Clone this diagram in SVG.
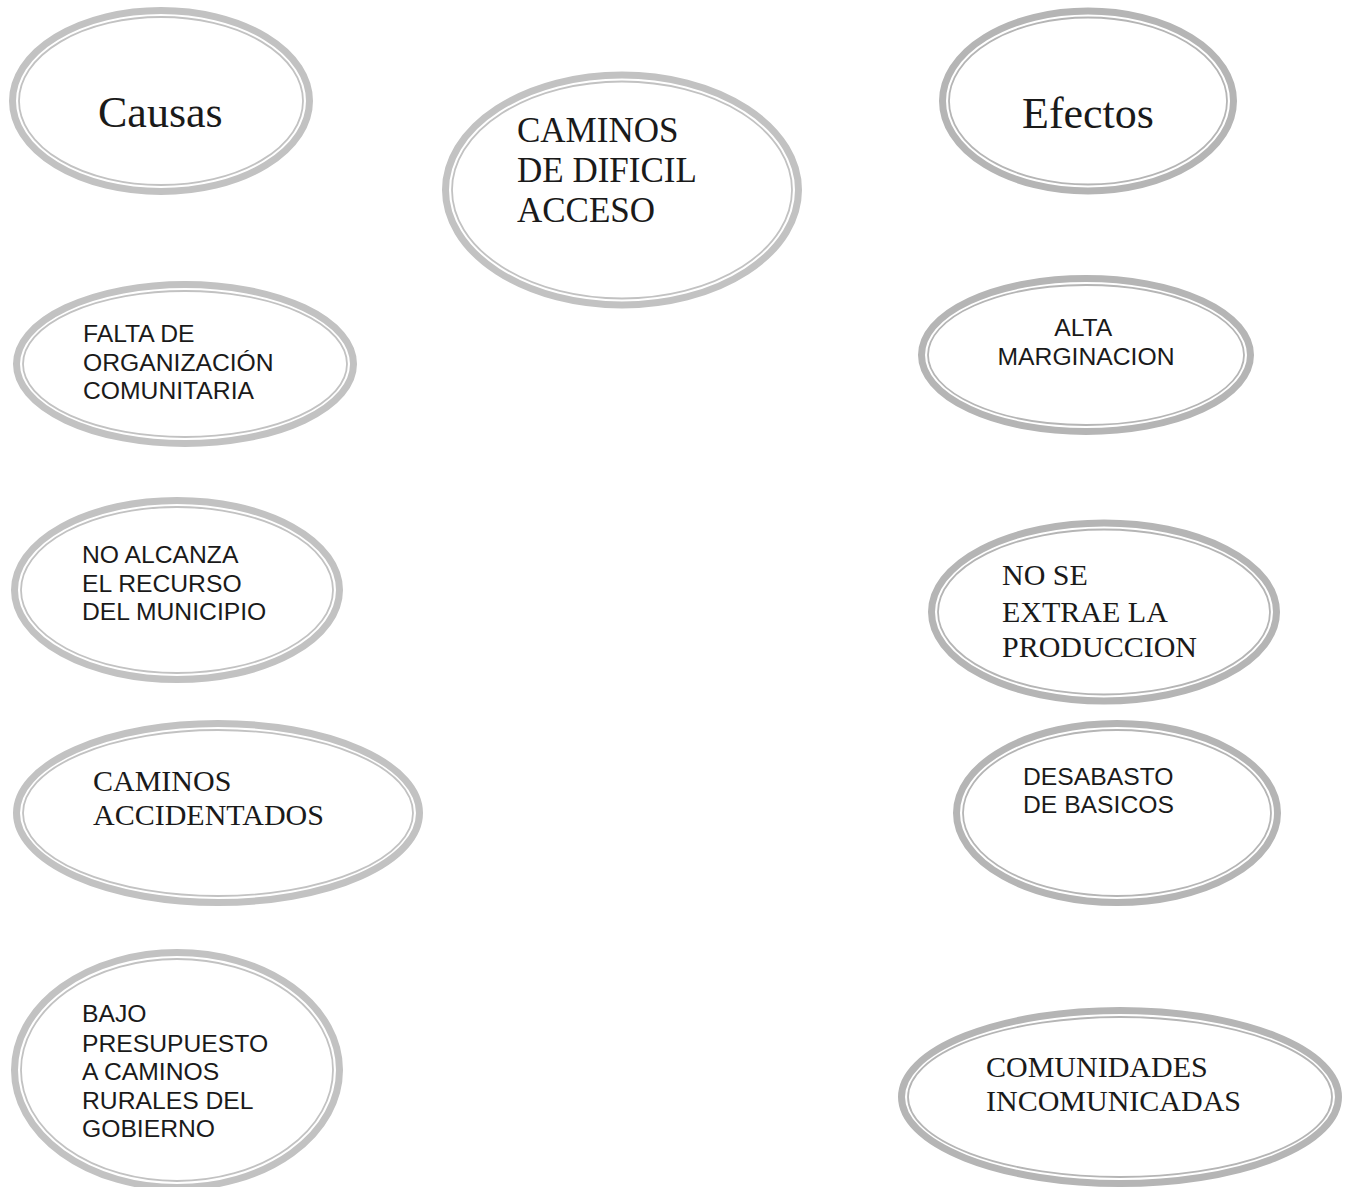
<svg xmlns="http://www.w3.org/2000/svg" width="1348" height="1187" viewBox="0 0 1348 1187">
  <style>
    .ring { fill: #ffffff; stroke: #c2c2c2; stroke-width: 7; }
    .ring2 { fill: #ffffff; stroke: #b5b5b5; stroke-width: 7; }
    .inner { fill: none; stroke: #c2c2c2; stroke-width: 1.8; }
    .inner2 { fill: none; stroke: #b5b5b5; stroke-width: 1.8; }
    .serif { font-family: "Liberation Serif", "Times New Roman", serif; fill: #1a1a1a; }
    .sans { font-family: "Liberation Sans", Arial, sans-serif; fill: #1a1a1a; font-size: 24.7px; }
  </style>
  <rect width="1348" height="1187" fill="#ffffff"/>
  <g id="connectors"/>

  <g id="causas">
    <ellipse class="ring" cx="161" cy="101" rx="148.5" ry="90.5"/>
    <ellipse class="inner" cx="161" cy="101" rx="142" ry="84"/>
    <text class="serif" x="98" y="127" font-size="44">Causas</text>
  </g>

  <g id="problema">
    <ellipse class="ring" cx="622" cy="190" rx="176.5" ry="115"/>
    <ellipse class="inner" cx="622" cy="190" rx="170" ry="108.5"/>
    <text class="serif" font-size="35">
      <tspan x="517" y="142">CAMINOS</tspan>
      <tspan x="517" y="182">DE DIFICIL</tspan>
      <tspan x="517" y="222">ACCESO</tspan>
    </text>
  </g>

  <g id="efectos">
    <ellipse class="ring2" cx="1088" cy="101" rx="145.5" ry="90"/>
    <ellipse class="inner2" cx="1088" cy="101" rx="139" ry="83.5"/>
    <text class="serif" x="1022" y="128" font-size="44">Efectos</text>
  </g>

  <g id="falta-organizacion">
    <ellipse class="ring" cx="185" cy="364" rx="168.5" ry="79.5"/>
    <ellipse class="inner" cx="185" cy="364" rx="162" ry="73"/>
    <text class="sans">
      <tspan x="83" y="342">FALTA DE</tspan>
      <tspan x="83" y="371">ORGANIZACIÓN</tspan>
      <tspan x="83" y="399">COMUNITARIA</tspan>
    </text>
  </g>

  <g id="alta-marginacion">
    <ellipse class="ring2" cx="1086" cy="355" rx="164.5" ry="76.5"/>
    <ellipse class="inner2" cx="1086" cy="355" rx="158" ry="70"/>
    <text class="sans" text-anchor="middle">
      <tspan x="1086" y="336">ALTA</tspan>
      <tspan x="1086" y="365">MARGINACION</tspan>
    </text>
  </g>

  <g id="no-alcanza">
    <ellipse class="ring" cx="177" cy="590" rx="162.5" ry="89.5"/>
    <ellipse class="inner" cx="177" cy="590" rx="156" ry="83"/>
    <text class="sans">
      <tspan x="82" y="563">NO ALCANZA</tspan>
      <tspan x="82" y="592">EL RECURSO</tspan>
      <tspan x="82" y="620">DEL MUNICIPIO</tspan>
    </text>
  </g>

  <g id="no-se-extrae">
    <ellipse class="ring2" cx="1104" cy="612" rx="172.5" ry="89"/>
    <ellipse class="inner2" cx="1104" cy="612" rx="166" ry="82.5"/>
    <text class="serif" font-size="30">
      <tspan x="1002" y="585">NO SE</tspan>
      <tspan x="1002" y="622">EXTRAE LA</tspan>
      <tspan x="1002" y="657">PRODUCCION</tspan>
    </text>
  </g>

  <g id="caminos-accidentados">
    <ellipse class="ring" cx="218" cy="813" rx="201.5" ry="89.5"/>
    <ellipse class="inner" cx="218" cy="813" rx="195" ry="83"/>
    <text class="serif" font-size="30">
      <tspan x="93" y="791">CAMINOS</tspan>
      <tspan x="93" y="825">ACCIDENTADOS</tspan>
    </text>
  </g>

  <g id="desabasto">
    <ellipse class="ring2" cx="1117" cy="813" rx="160.5" ry="89.5"/>
    <ellipse class="inner2" cx="1117" cy="813" rx="154" ry="83"/>
    <text class="sans">
      <tspan x="1023" y="785">DESABASTO</tspan>
      <tspan x="1023" y="813">DE BASICOS</tspan>
    </text>
  </g>

  <g id="bajo-presupuesto">
    <ellipse class="ring" cx="177" cy="1070" rx="162.5" ry="117.5"/>
    <ellipse class="inner" cx="177" cy="1070" rx="156" ry="111"/>
    <text class="sans">
      <tspan x="82" y="1022">BAJO</tspan>
      <tspan x="82" y="1052">PRESUPUESTO</tspan>
      <tspan x="82" y="1080">A CAMINOS</tspan>
      <tspan x="82" y="1109">RURALES DEL</tspan>
      <tspan x="82" y="1137">GOBIERNO</tspan>
    </text>
  </g>

  <g id="comunidades">
    <ellipse class="ring2" cx="1120" cy="1097" rx="218.5" ry="86.5"/>
    <ellipse class="inner2" cx="1120" cy="1097" rx="212" ry="80"/>
    <text class="serif" font-size="30">
      <tspan x="986" y="1077">COMUNIDADES</tspan>
      <tspan x="986" y="1111">INCOMUNICADAS</tspan>
    </text>
  </g>
</svg>
